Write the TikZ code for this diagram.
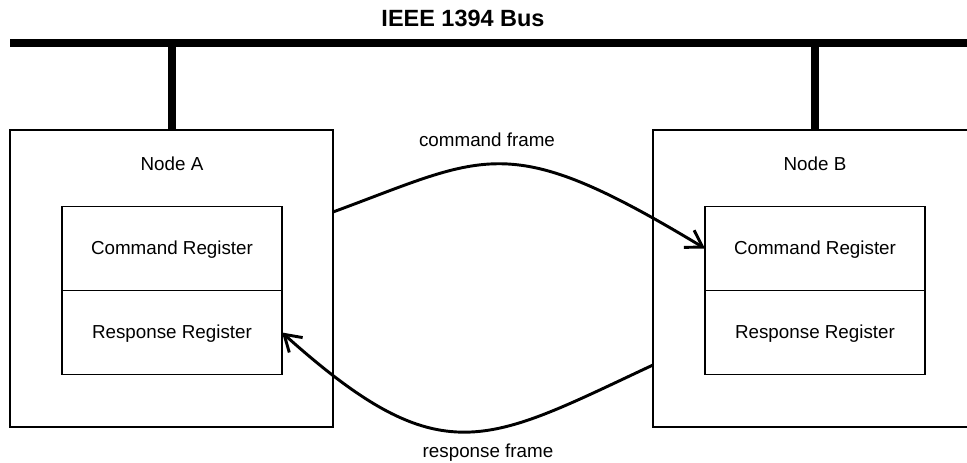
\documentclass[tikz,border=0pt]{standalone}
\usepackage{fontspec}
\setmainfont{Liberation Sans}
\usetikzlibrary{arrows.meta}

\tikzset{
  thinbox/.style={draw=black, line width=1.1pt, inner sep=0pt, outer sep=0pt},
  nodebox/.style={thinbox, minimum width=242.25pt, minimum height=222.75pt},
  regbox/.style={thinbox, minimum width=165pt, minimum height=63pt},
  lbl/.style={inner sep=0pt, anchor=base, font=\fontsize{14.1}{17}\selectfont},
  titlelbl/.style={inner sep=0pt, anchor=base, font=\fontsize{17.6}{21}\selectfont\bfseries},
  bus/.style={line width=6pt},
  frame/.style={line width=2.2pt, -{Straight Barb[length=12pt,width=15pt,line width=2.2pt]}},
}

\begin{document}
\begin{tikzpicture}[x=0.75pt, y=-0.75pt]
  \useasboundingbox (0,0) rectangle (967,463);

  % title and bus line
  \node[titlelbl] (title) at (463,26.7) {IEEE 1394 Bus};
  \coordinate (busL) at (10,43.5);
  \coordinate (busR) at (995,43.5);
  \draw[bus] (busL) -- (busR);

  % the two bus nodes
  \node[nodebox] (nodeA) at (171.5,278.5) {};
  \node[nodebox] (nodeB) at (814.5,278.5) {};
  \node[lbl] (labA) at (172,170.7) {Node A};
  \node[lbl] (labB) at (815,170.7) {Node B};

  % taps from the bus down to each node
  \draw[bus] (nodeA.north) -- (nodeA.north |- busL);
  \draw[bus] (nodeB.north) -- (nodeB.north |- busL);

  % register blocks
  \node[regbox] (cmdA)  at (172,248.5) {};
  \node[regbox] (respA) at (172,332.5) {};
  \node[regbox] (cmdB)  at (815,248.5) {};
  \node[regbox] (respB) at (815,332.5) {};
  \node[lbl] at (172,255) {Command Register};
  \node[lbl] at (172,338.3) {Response Register};
  \node[lbl] at (815,255) {Command Register};
  \node[lbl] at (815,338.3) {Response Register};

  % frames exchanged between the nodes
  \coordinate (cmdStart) at ([yshift=-61.5pt]nodeA.north east);
  \coordinate (respStart) at ([yshift=-176.25pt]nodeB.north west);
  \draw[frame] (cmdStart) .. controls (488,155) and (507,129) .. (cmdB.west);
  \draw[frame] (respStart) .. controls (486,443) and (442,476) .. (respA.east);
  \node[lbl] (cmdLbl) at (487,147) {command frame};
  \node[lbl] (respLbl) at (488,457.5) {response frame};
\end{tikzpicture}
\end{document}
